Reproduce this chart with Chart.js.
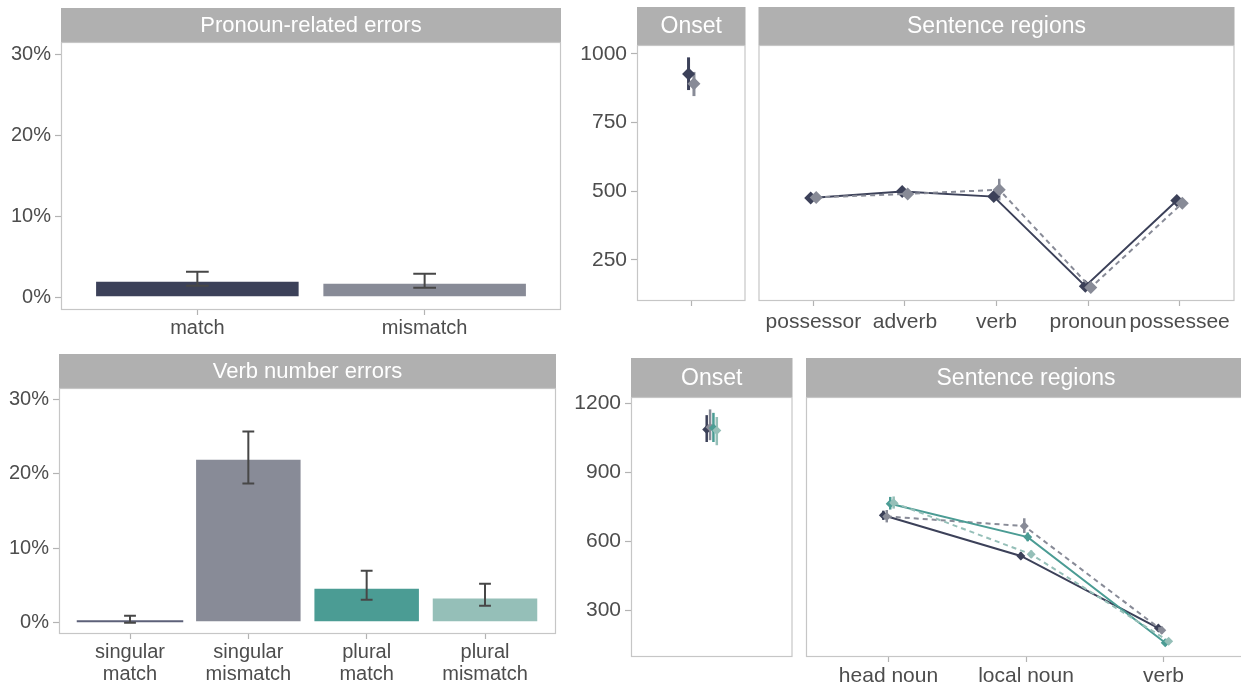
<!DOCTYPE html>
<html>
<head>
<meta charset="utf-8">
<script src="https://cdn.jsdelivr.net/npm/chart.js@4.4.1/dist/chart.umd.min.js"></script>
<style>
  html, body { margin: 0; padding: 0; background: #ffffff; overflow: hidden; width: 1241px; height: 686px; position: relative; }
  canvas { position: absolute; }
</style>
</head>
<body>
<canvas id="pronounErrors"></canvas>
<canvas id="verbErrors"></canvas>
<canvas id="pronounOnset"></canvas>
<canvas id="pronounRegions"></canvas>
<canvas id="verbOnset"></canvas>
<canvas id="verbRegions"></canvas>
<script>
// ---- Error rates (%) ----
const pronounConditions = ['match', 'mismatch'];
const pronounErrorRate  = [2.1, 1.85];
const pronounErrorLow   = [1.5, 1.25];
const pronounErrorHigh  = [3.2, 2.95];

const verbConditions = [['singular', 'match'], ['singular', 'mismatch'], ['plural', 'match'], ['plural', 'mismatch']];
const verbErrorRate  = [0.13, 22.0, 4.7, 3.4];
const verbErrorLow   = [0.0, 18.7, 3.1, 2.3];
const verbErrorHigh  = [0.95, 25.65, 7.0, 5.25];

const percentTicks = [0, 10, 20, 30];

// ---- Reading times (ms), pronoun sentences ----
const pronounRegionNames = ['possessor', 'adverb', 'verb', 'pronoun', 'possessee'];
const pronounRtTicks = [250, 500, 750, 1000];

const onsetMatch         = [926];
const onsetMatchLow      = [868];
const onsetMatchHigh     = [987];
const onsetMismatch      = [891];
const onsetMismatchLow   = [846];
const onsetMismatchHigh  = [934];

const regionMatch        = [475, 499, 480, 154, 466];
const regionMatchLow     = [463, 487, 468, 142, 454];
const regionMatchHigh    = [487, 511, 492, 166, 478];
const regionMismatch     = [477, 490, 505, 149, 456];
const regionMismatchLow  = [465, 478, 466, 137, 443];
const regionMismatchHigh = [489, 502, 545, 161, 469];

// ---- Reading times (ms), agreement sentences ----
const verbRegionNames = ['head noun', 'local noun', 'verb'];
const verbRtTicks = [300, 600, 900, 1200];

const onsetSgMatch        = [1086];
const onsetSgMatchLow     = [1032];
const onsetSgMatchHigh    = [1149];
const onsetSgMismatch     = [1096];
const onsetSgMismatchLow  = [1040];
const onsetSgMismatchHigh = [1174];
const onsetPlMatch        = [1093];
const onsetPlMatchLow     = [1032];
const onsetPlMatchHigh    = [1159];
const onsetPlMismatch     = [1082];
const onsetPlMismatchLow  = [1018];
const onsetPlMismatchHigh = [1141];

const sgMatch         = [713, 536, 222];
const sgMatchLow      = [693, 522, 210];
const sgMatchHigh     = [733, 552, 236];
const sgMismatch      = [708, 666, 213];
const sgMismatchLow   = [682, 636, 198];
const sgMismatchHigh  = [736, 700, 228];
const plMatch         = [763, 618, 158];
const plMatchLow      = [738, 600, 146];
const plMatchHigh     = [793, 638, 170];
const plMismatch      = [768, 543, 165];
const plMismatchLow   = [742, 528, 152];
const plMismatchHigh  = [795, 560, 178];

// ---- Styling ----
const NAVY = '#3c4159', SLATE = '#888b97', TEAL = '#4b9c94', MINT = '#95bfb8';
const STRIP = '#b0b0b0', FRAME = '#c6c6c6', TICK = '#b3b3b3', TEXT = '#4d4d4d', RANGE = '#474747';
const FONT = "'Liberation Sans', Arial, Helvetica, sans-serif";
Chart.defaults.font.family = FONT;

// facet strip above the panel + panel border
function framePlugin(title, stripH, size) {
  return {
    id: 'frame',
    beforeDraw(chart) {
      const a = chart.chartArea, ctx = chart.ctx;
      ctx.save();
      ctx.fillStyle = STRIP;
      ctx.fillRect(a.left, a.top - stripH, a.right - a.left, stripH);
      ctx.fillStyle = '#ffffff';
      ctx.font = size + 'px ' + FONT;
      ctx.textAlign = 'center';
      ctx.textBaseline = 'middle';
      ctx.fillText(title, (a.left + a.right) / 2, a.top - stripH / 2 + 1);
      ctx.restore();
    },
    afterDraw(chart) {
      const a = chart.chartArea, ctx = chart.ctx;
      ctx.save();
      ctx.strokeStyle = FRAME;
      ctx.lineWidth = 1.2;
      ctx.strokeRect(a.left + 0.5, a.top + 0.5, a.right - a.left - 1, a.bottom - a.top - 1);
      ctx.restore();
    }
  };
}

// vertical ranges (error bars), optionally capped
function rangePlugin(sets, layer) {
  const draw = (chart) => {
    const ctx = chart.ctx, xs = chart.scales.x, ys = chart.scales.y;
    ctx.save();
    ctx.lineCap = 'butt';
    for (const s of sets) {
      ctx.strokeStyle = s.color;
      ctx.lineWidth = s.width;
      s.lo.forEach((lo, i) => {
        const px = xs.getPixelForValue(s.x[i]);
        const top = ys.getPixelForValue(s.hi[i]);
        const bot = ys.getPixelForValue(lo);
        ctx.beginPath();
        ctx.moveTo(px, top);
        ctx.lineTo(px, bot);
        if (s.cap) {
          const half = Math.abs(xs.getPixelForValue(s.x[i] + s.cap / 2) - px);
          ctx.moveTo(px - half, top); ctx.lineTo(px + half, top);
          ctx.moveTo(px - half, bot); ctx.lineTo(px + half, bot);
        }
        ctx.stroke();
      });
    }
    ctx.restore();
  };
  return {
    id: 'ranges',
    beforeDatasetsDraw(chart) { if (layer === 'under') draw(chart); },
    afterDatasetsDraw(chart) { if (layer === 'over') draw(chart); }
  };
}

function place(id, x, y, w, h) {
  const c = document.getElementById(id);
  c.width = w; c.height = h;
  c.style.left = x + 'px'; c.style.top = y + 'px';
  c.style.width = w + 'px'; c.style.height = h + 'px';
  return c;
}

function xAxis(min, max, labels, height, size, pad) {
  return {
    type: 'linear', min, max, offset: false,
    grid: { display: true, offset: false, drawOnChartArea: false, drawTicks: true, tickLength: 5, tickColor: TICK, tickWidth: 1.2 },
    border: { display: false },
    afterBuildTicks: s => { s.ticks = labels.map((_, i) => ({ value: i + 1 })); },
    afterFit: s => { s.height = height; },
    ticks: {
      autoSkip: false, maxRotation: 0, minRotation: 0, padding: pad, color: TEXT,
      font: { family: FONT, size: size, lineHeight: 1.08 },
      callback: v => labels[Math.round(v) - 1]
    }
  };
}

function yAxis(min, max, ticks, fmt, width, size) {
  const show = width > 0;
  return {
    type: 'linear', min, max, display: show,
    grid: { display: true, drawOnChartArea: false, drawTicks: true, tickLength: 6, tickColor: TICK, tickWidth: 1.2 },
    border: { display: false },
    afterBuildTicks: s => { s.ticks = ticks.map(v => ({ value: v })); },
    afterFit: s => { s.width = width; },
    ticks: { padding: 4, color: TEXT, font: { family: FONT, size: size }, callback: fmt }
  };
}

function baseOptions(pad, scales) {
  return {
    responsive: false, animation: false, events: [],
    layout: { padding: pad },
    plugins: { legend: { display: false }, tooltip: { enabled: false } },
    scales
  };
}

const pct = v => v + '%';
const ms = v => String(v);
const at = (vals, shift) => vals.map((v, i) => ({ x: i + 1 + shift, y: v }));
const pos = (vals, shift) => vals.map((_, i) => i + 1 + shift);

// ---------- Pronoun-related errors ----------
place('pronounErrors', 0, 0, 575, 345);
new Chart(document.getElementById('pronounErrors'), {
  type: 'bar',
  data: {
    datasets: [{
      data: at(pronounErrorRate, 0),
      backgroundColor: [NAVY, SLATE],
      borderColor: 'rgba(255,255,255,0.55)', borderWidth: 1, borderSkipped: false,
      categoryPercentage: 1, barPercentage: 0.9
    }]
  },
  options: baseOptions({ top: 42, right: 14, left: 0, bottom: 0 }, {
    x: xAxis(0.4, 2.6, pronounConditions, 35, 20, 3),
    y: yAxis(-1.5, 31.5, percentTicks, pct, 61, 20)
  }),
  plugins: [framePlugin('Pronoun-related errors', 34, 22),
            rangePlugin([{ x: pos(pronounErrorRate, 0), lo: pronounErrorLow, hi: pronounErrorHigh, color: RANGE, width: 2, cap: 0.1 }], 'over')]
});

// ---------- Verb number errors ----------
place('verbErrors', 0, 345, 575, 341);
new Chart(document.getElementById('verbErrors'), {
  type: 'bar',
  data: {
    datasets: [{
      data: at(verbErrorRate, 0),
      backgroundColor: ['#5d6179', SLATE, TEAL, MINT],
      borderColor: 'rgba(255,255,255,0.55)', borderWidth: [0, 1, 1, 1], borderSkipped: false,
      categoryPercentage: 1, barPercentage: 0.9, minBarLength: 2.5
    }]
  },
  options: baseOptions({ top: 43, right: 19, left: 0, bottom: 0 }, {
    x: xAxis(0.4, 4.6, verbConditions, 52, 20, 3),
    y: yAxis(-1.5, 31.5, percentTicks, pct, 59, 20)
  }),
  plugins: [framePlugin('Verb number errors', 34, 22),
            rangePlugin([{ x: pos(verbErrorRate, 0), lo: verbErrorLow, hi: verbErrorHigh, color: RANGE, width: 2, cap: 0.1 }], 'over')]
});

// ---------- point + line series ----------
function pointSet(vals, shift, color, dash, radius, lineWidth, order) {
  return {
    data: at(vals, shift), borderColor: color, backgroundColor: color,
    borderDash: dash, borderWidth: lineWidth, showLine: true,
    pointStyle: 'rectRot', pointRadius: radius, pointBorderWidth: 0,
    pointBackgroundColor: color, tension: 0, order
  };
}

// ---------- Pronoun sentences: onset ----------
const D2 = 0.03;
place('pronounOnset', 580, 0, 172, 345);
new Chart(document.getElementById('pronounOnset'), {
  type: 'line',
  data: { datasets: [
    pointSet(onsetMatch, -D2, NAVY, [], 6.5, 2, 1),
    pointSet(onsetMismatch, D2, SLATE, [5, 4], 6.5, 2, 0)
  ] },
  options: baseOptions({ top: 45, right: 4, left: 0, bottom: 0 }, {
    x: xAxis(0.4, 1.6, [''], 44, 21, 5),
    y: yAxis(100, 1032, pronounRtTicks, ms, 57, 21)
  }),
  plugins: [framePlugin('Onset', 38, 23),
            rangePlugin([
              { x: pos(onsetMatch, -D2), lo: onsetMatchLow, hi: onsetMatchHigh, color: NAVY, width: 3 },
              { x: pos(onsetMismatch, D2), lo: onsetMismatchLow, hi: onsetMismatchHigh, color: SLATE, width: 3 }
            ], 'under')]
});

// ---------- Pronoun sentences: regions ----------
place('pronounRegions', 752, 0, 489, 345);
new Chart(document.getElementById('pronounRegions'), {
  type: 'line',
  data: { datasets: [
    pointSet(regionMatch, -D2, NAVY, [], 6.5, 2, 1),
    pointSet(regionMismatch, D2, SLATE, [5, 4], 6.5, 2, 0)
  ] },
  options: baseOptions({ top: 45, right: 1, left: 6, bottom: 0 }, {
    x: xAxis(0.4, 5.6, pronounRegionNames, 44, 21, 5),
    y: yAxis(100, 1032, pronounRtTicks, ms, 0, 21)
  }),
  plugins: [framePlugin('Sentence regions', 38, 23),
            rangePlugin([
              { x: pos(regionMatch, -D2), lo: regionMatchLow, hi: regionMatchHigh, color: NAVY, width: 2.5 },
              { x: pos(regionMismatch, D2), lo: regionMismatchLow, hi: regionMismatchHigh, color: SLATE, width: 2.5 }
            ], 'under')]
});

// ---------- Agreement sentences: onset ----------
const D4 = [-0.0375, -0.0125, 0.0125, 0.0375];
place('verbOnset', 575, 345, 222, 341);
new Chart(document.getElementById('verbOnset'), {
  type: 'line',
  data: { datasets: [
    pointSet(onsetSgMatch, D4[0], NAVY, [], 4.5, 2, 3),
    pointSet(onsetSgMismatch, D4[1], SLATE, [5, 4], 4.5, 2, 2),
    pointSet(onsetPlMatch, D4[2], TEAL, [], 4.5, 2, 1),
    pointSet(onsetPlMismatch, D4[3], MINT, [5, 4], 4.5, 2, 0)
  ] },
  options: baseOptions({ top: 52, right: 3, left: 0, bottom: 0 }, {
    x: xAxis(0.4, 1.6, [], 29, 21, 3),
    y: yAxis(96, 1228, verbRtTicks, ms, 56, 21)
  }),
  plugins: [framePlugin('Onset', 39, 23),
            rangePlugin([
              { x: pos(onsetSgMatch, D4[0]), lo: onsetSgMatchLow, hi: onsetSgMatchHigh, color: NAVY, width: 2.5 },
              { x: pos(onsetSgMismatch, D4[1]), lo: onsetSgMismatchLow, hi: onsetSgMismatchHigh, color: SLATE, width: 2.5 },
              { x: pos(onsetPlMatch, D4[2]), lo: onsetPlMatchLow, hi: onsetPlMatchHigh, color: TEAL, width: 2.5 },
              { x: pos(onsetPlMismatch, D4[3]), lo: onsetPlMismatchLow, hi: onsetPlMismatchHigh, color: MINT, width: 2.5 }
            ], 'under')]
});

// ---------- Agreement sentences: regions ----------
place('verbRegions', 797, 345, 460, 341);
new Chart(document.getElementById('verbRegions'), {
  type: 'line',
  data: { datasets: [
    pointSet(sgMatch, D4[0], NAVY, [], 4.5, 2, 3),
    pointSet(sgMismatch, D4[1], SLATE, [5, 4], 4.5, 2, 2),
    pointSet(plMatch, D4[2], TEAL, [], 4.5, 2, 1),
    pointSet(plMismatch, D4[3], MINT, [5, 4], 4.5, 2, 0)
  ] },
  options: baseOptions({ top: 52, right: 11, left: 9, bottom: 0 }, {
    x: xAxis(0.4, 3.6, verbRegionNames, 29, 21, 3),
    y: yAxis(96, 1228, verbRtTicks, ms, 0, 21)
  }),
  plugins: [framePlugin('Sentence regions', 39, 23),
            rangePlugin([
              { x: pos(sgMatch, D4[0]), lo: sgMatchLow, hi: sgMatchHigh, color: NAVY, width: 2.5 },
              { x: pos(sgMismatch, D4[1]), lo: sgMismatchLow, hi: sgMismatchHigh, color: SLATE, width: 2.5 },
              { x: pos(plMatch, D4[2]), lo: plMatchLow, hi: plMatchHigh, color: TEAL, width: 2.5 },
              { x: pos(plMismatch, D4[3]), lo: plMismatchLow, hi: plMismatchHigh, color: MINT, width: 2.5 }
            ], 'under')]
});
</script>
</body>
</html>
